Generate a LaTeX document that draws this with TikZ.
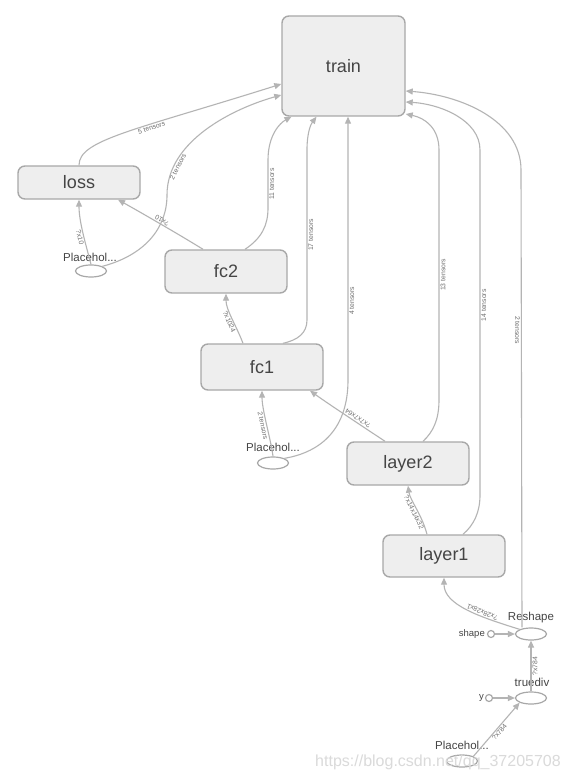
\documentclass[tikz,border=0pt]{standalone}
\usepackage{fontspec}
\setmainfont{Liberation Sans}
\usetikzlibrary{arrows.meta,shapes.geometric}
\definecolor{boxfill}{HTML}{EEEEEE}
\definecolor{boxline}{HTML}{A8A8A8}
\definecolor{edgecol}{HTML}{B4B4B4}
\definecolor{txtcol}{HTML}{454545}
\definecolor{lblcol}{HTML}{6E6E6E}
\definecolor{markcol}{HTML}{DADADA}
\newcommand\opsize{\fontsize{11.5}{12}\selectfont}
\newcommand\cstsize{\fontsize{9.5}{10}\selectfont}

\tikzset{
  nsbox/.style={draw=boxline, fill=boxfill, line width=1.4pt, rounded corners=7pt,
    minimum width=122pt, minimum height=43pt, inner sep=0pt,
    text=txtcol, font=\fontsize{18}{20}\selectfont},
  opnode/.style={ellipse, draw=boxline, fill=white, line width=1.2pt,
    minimum width=31pt, minimum height=12pt, inner sep=0pt},
  cstnode/.style={circle, draw=boxline, fill=white, line width=1.2pt,
    minimum size=7pt, inner sep=0pt},
  oplabel/.style={text=txtcol, font=\opsize, inner sep=0pt},
  flow/.style={draw=edgecol, line width=1.1pt, -{Triangle[length=7pt,width=6pt]}},
  tensor/.style={sloped, font=\fontsize{6.8}{7}\selectfont, text=lblcol, inner sep=1pt},
}

\begin{document}
\begin{tikzpicture}[x=1pt, y=-1pt]
\useasboundingbox[fill=white] (0,0) rectangle (568,781);

% name scopes
\node[nsbox, minimum width=123pt, minimum height=100pt] (train) at (343.5,66) {train};
\node[nsbox, minimum height=33pt] (loss) at (79,182.5) {loss};
\node[nsbox] (fc2) at (226,271.5) {fc2};
\node[nsbox, minimum height=46pt] (fc1) at (262,367) {fc1};
\node[nsbox] (layer2) at (408,463.5) {layer2};
\node[nsbox, minimum height=42pt] (layer1) at (444,556) {layer1};

% ops
\node[opnode] (ph1) at (91,271) {};
\node[oplabel] (ph1lbl) at (90,257) {Placehol...};
\node[opnode] (ph2) at (273,463) {};
\node[oplabel] (ph2lbl) at (273,447) {Placehol...};
\node[opnode] (reshape) at (531,634) {};
\node[oplabel] (reshapelbl) at (531,618) {Reshape};
\node[cstnode] (shape) at (491,634) {};
\node[oplabel, font=\cstsize, anchor=east] (shapelbl) at (485,634) {shape};
\node[opnode] (truediv) at (531,698) {};
\node[oplabel] (truedivlbl) at (532,682) {truediv};
\node[cstnode] (ycst) at (489,698) {};
\node[oplabel, font=\cstsize, anchor=east] (ylbl) at (484,698) {y};
\node[opnode] (ph3) at (462,761) {};
\node[oplabel] (ph3lbl) at (462,745) {Placehol...};

% edges into train
\draw[flow] (loss.north) .. controls (79,140) and (132,131) .. ([yshift=-18pt]train.west)
  node[tensor, pos=0.62, below] {5 tensors};
\draw[flow] (ph1.north east) .. controls (145,255) and (167,228) .. (167,195)
  .. controls (167,140) and (235,108) .. ([yshift=-29pt]train.west)
  node[tensor, pos=0.2, below] {2 tensors};
\draw[flow] ([xshift=19pt]fc2.north) .. controls (262,238) and (268,225) .. (268,208)
  -- (268,160) node[tensor, midway, below] {11 tensors}
  .. controls (268,135) and (280,123) .. ([xshift=-52pt]train.south);
\draw[flow] ([xshift=21pt]fc1.north) .. controls (298,340) and (307,333) .. (307,320)
  -- (307,150) node[tensor, midway, below] {17 tensors}
  .. controls (307,132) and (311,124) .. ([xshift=-27pt]train.south);
\draw[flow] (ph2.north east) .. controls (322,452) and (348,428) .. (348,380)
  -- ([xshift=4.5pt]train.south) node[tensor, pos=0.3, below] {4 tensors};
\draw[flow] ([xshift=15pt]layer2.north) .. controls (433,432) and (439,420) .. (439,400)
  -- (439,150) node[tensor, midway, below] {13 tensors}
  .. controls (439,128) and (425,118) .. ([yshift=-48pt]train.east);
\draw[flow] ([xshift=19pt]layer1.north) .. controls (474,525) and (480,512) .. (480,495)
  -- (480,150) node[tensor, pos=0.55, below] {14 tensors}
  .. controls (480,120) and (440,104) .. ([yshift=-36pt]train.east);
\draw[flow] ([xshift=-9pt]reshape.north) -- (521,170) node[tensor, pos=0.65, below] {2 tensors}
  .. controls (521,120) and (460,95) .. ([yshift=-25pt]train.east);

% data edges
\draw[flow] (ph1.north) .. controls (86,245) and (79,222) .. (loss.south)
  node[tensor, pos=0.45, below] {?x10};
\draw[flow] ([xshift=-23pt]fc2.north) .. controls (180,235) and (140,212) .. ([xshift=39pt]loss.south)
  node[tensor, allow upside down, pos=0.5, below] {?x10};
\draw[flow] ([xshift=-19pt]fc1.north) .. controls (236,325) and (226,310) .. (fc2.south)
  node[tensor, pos=0.45, below] {?x1024};
\draw[flow] (ph2.north) .. controls (271,440) and (262,410) .. (fc1.south)
  node[tensor, pos=0.5, below] {2 tensors};
\draw[flow] ([xshift=-23pt]layer2.north) .. controls (365,428) and (330,405) .. ([xshift=48pt]fc1.south)
  node[tensor, allow upside down, pos=0.4, below] {?x7x7x64};
\draw[flow] ([xshift=-17pt]layer1.north) .. controls (422,515) and (410,500) .. (layer2.south)
  node[tensor, pos=0.45, below] {?x14x14x32};
\draw[flow] (reshape.north west) .. controls (480,617) and (444,605) .. (layer1.south)
  node[tensor, allow upside down, pos=0.35, below] {?x28x28x1};
\draw[flow] (shape.east) -- (reshape.west);
\draw[flow] (truediv.north) -- (reshape.south) node[tensor, midway, below] {?x784};
\draw[flow] (ycst.east) -- (truediv.west);
\draw[flow] (ph3.north east) -- (truediv.south west) node[tensor, pos=0.5, below] {?x784};

\node[text=markcol, font=\fontsize{16}{18}\selectfont] (mark) at (438,762) {https://blog.csdn.net/qq\_37205708};
\end{tikzpicture}
\end{document}
